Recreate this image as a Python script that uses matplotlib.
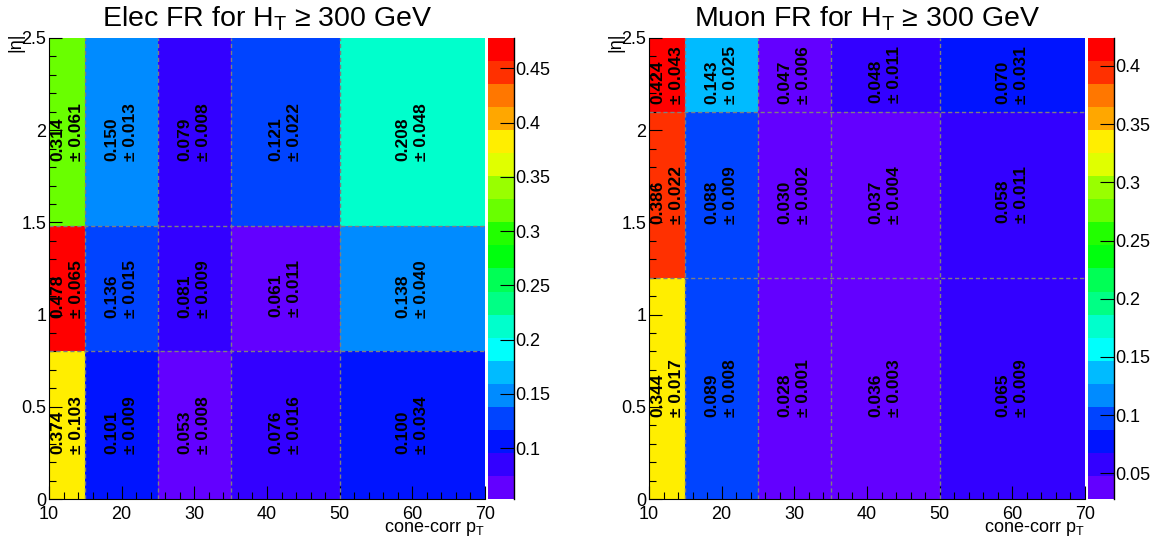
import colorsys
import numpy as np
import matplotlib
matplotlib.use('Agg')
import matplotlib.pyplot as plt
from matplotlib.colors import ListedColormap, BoundaryNorm
from matplotlib.ticker import MultipleLocator

plt.rcParams['font.family'] = ['Liberation Sans', 'DejaVu Sans']
plt.rcParams['mathtext.fontset'] = 'custom'
plt.rcParams['mathtext.rm'] = 'Liberation Sans'
plt.rcParams['mathtext.it'] = 'Liberation Sans'

# bin edges
pt_edges = [10, 15, 25, 35, 50, 70]
elec_eta_edges = [0, 0.8, 1.479, 2.5]
muon_eta_edges = [0, 1.2, 2.1, 2.5]

# fake rates, rows = eta bins (bottom to top), columns = pt bins
elec_fr = [[0.374, 0.101, 0.053, 0.076, 0.100],
           [0.478, 0.136, 0.081, 0.061, 0.138],
           [0.314, 0.150, 0.079, 0.121, 0.208]]
elec_err = [[0.103, 0.009, 0.008, 0.016, 0.034],
            [0.065, 0.015, 0.009, 0.011, 0.040],
            [0.061, 0.013, 0.008, 0.022, 0.048]]

muon_fr = [[0.344, 0.089, 0.028, 0.036, 0.065],
           [0.386, 0.088, 0.030, 0.037, 0.058],
           [0.424, 0.143, 0.047, 0.048, 0.070]]
muon_err = [[0.017, 0.008, 0.001, 0.003, 0.009],
            [0.022, 0.009, 0.002, 0.004, 0.011],
            [0.043, 0.025, 0.006, 0.011, 0.031]]

titles = ['Elec FR for H$_{\\mathrm{T}}$ \u2265 300 GeV',
          'Muon FR for H$_{\\mathrm{T}}$ \u2265 300 GeV']

NLEVELS = 20


def root_palette(nlev):
    # old ROOT "pretty" palette (violet -> red), 50 colours, picked for nlev contours
    cols = []
    for k in range(nlev):
        idx = int((k + 0.99) * 50 / nlev)
        if idx >= 49:
            cols.append((1, 0, 0))
            continue
        hue = 280 - (idx + 1) * 5.6
        cols.append(colorsys.hls_to_rgb(hue / 360.0, 0.5, 1.0))
    return ListedColormap(cols)


def draw_panel(fig, ax_rect, cb_rect, eta_edges, fr, err, title, cb_step):
    ax = fig.add_axes(ax_rect)
    cax = fig.add_axes(cb_rect)
    fr = np.array(fr)
    err = np.array(err)
    vmin, vmax = fr.min(), fr.max()
    levels = np.linspace(vmin, vmax, NLEVELS + 1)
    cmap = root_palette(NLEVELS)
    norm = BoundaryNorm(levels, NLEVELS, clip=True)

    mesh = ax.pcolormesh(pt_edges, eta_edges, fr, cmap=cmap, norm=norm)

    # dashed bin boundaries
    for x in pt_edges[1:-1]:
        ax.axvline(x, color='#7f7f7f', lw=1, ls=(0, (3, 2)))
    for y in eta_edges[1:-1]:
        ax.axhline(y, color='#7f7f7f', lw=1, ls=(0, (3, 2)))

    # text in cells
    for i in range(len(eta_edges) - 1):
        yc = 0.5 * (eta_edges[i] + eta_edges[i + 1])
        for j in range(len(pt_edges) - 1):
            xc = 0.5 * (pt_edges[j] + pt_edges[j + 1])
            ax.text(xc, yc, '%.3f\n\u00b1 %.3f' % (fr[i, j], err[i, j]),
                    rotation=90, ha='center', va='center', multialignment='left',
                    fontsize=12.5, fontweight='bold', linespacing=1.3)

    ax.set_xlim(10, 70)
    ax.set_ylim(0, 2.5)
    ax.xaxis.set_major_locator(MultipleLocator(10))
    ax.xaxis.set_minor_locator(MultipleLocator(2))
    ax.yaxis.set_major_locator(MultipleLocator(0.5))
    ax.yaxis.set_minor_locator(MultipleLocator(0.1))
    ax.yaxis.set_major_formatter(plt.FuncFormatter(lambda v, p: '%g' % v))
    ax.tick_params(which='both', direction='in', labelsize=13, width=0.8)
    ax.tick_params(which='major', length=9.5)
    ax.tick_params(which='minor', length=4.8)
    ax.tick_params(axis='x', pad=5)
    ax.tick_params(axis='y', pad=2)
    ax.spines['top'].set_visible(False)
    ax.spines['right'].set_visible(False)

    ax.text(1.0, -0.072, 'cone-corr p$_{\\mathrm{T}}$', transform=ax.transAxes,
            ha='right', va='baseline', fontsize=13)
    ax.text(-0.0757, 1.011, '|\u03b7|', transform=ax.transAxes, rotation=90,
            ha='center', va='top', fontsize=13)
    ax.text(0.5, (499 - 27) / 461.0, title, transform=ax.transAxes,
            ha='center', va='baseline', fontsize=20.5)

    cb = fig.colorbar(mesh, cax=cax)
    cb.outline.set_visible(False)
    cb.set_ticks(np.arange(np.ceil(vmin / cb_step) * cb_step, vmax, cb_step))
    cb.ax.yaxis.set_major_formatter(plt.FuncFormatter(lambda v, p: '%g' % round(v, 3)))
    cax.minorticks_off()
    cax.tick_params(direction='in', length=10, width=0.8, labelsize=13, pad=1)
    cax.plot([1, 1], [0, 1], transform=cax.transAxes, color='k', lw=1, clip_on=False)
    return ax


fig = plt.figure(figsize=(11.67, 5.43), dpi=100)
W, H = 1167.0, 543.0
bottom = 1 - 499 / H
height = 461 / H
draw_panel(fig, [49 / W, bottom, 436 / W, height], [488 / W, bottom, 26 / W, height],
           elec_eta_edges, elec_fr, elec_err, titles[0], 0.05)
draw_panel(fig, [649 / W, bottom, 436 / W, height], [1088 / W, bottom, 26 / W, height],
           muon_eta_edges, muon_fr, muon_err, titles[1], 0.05)

plt.savefig('out.png', dpi=100)
